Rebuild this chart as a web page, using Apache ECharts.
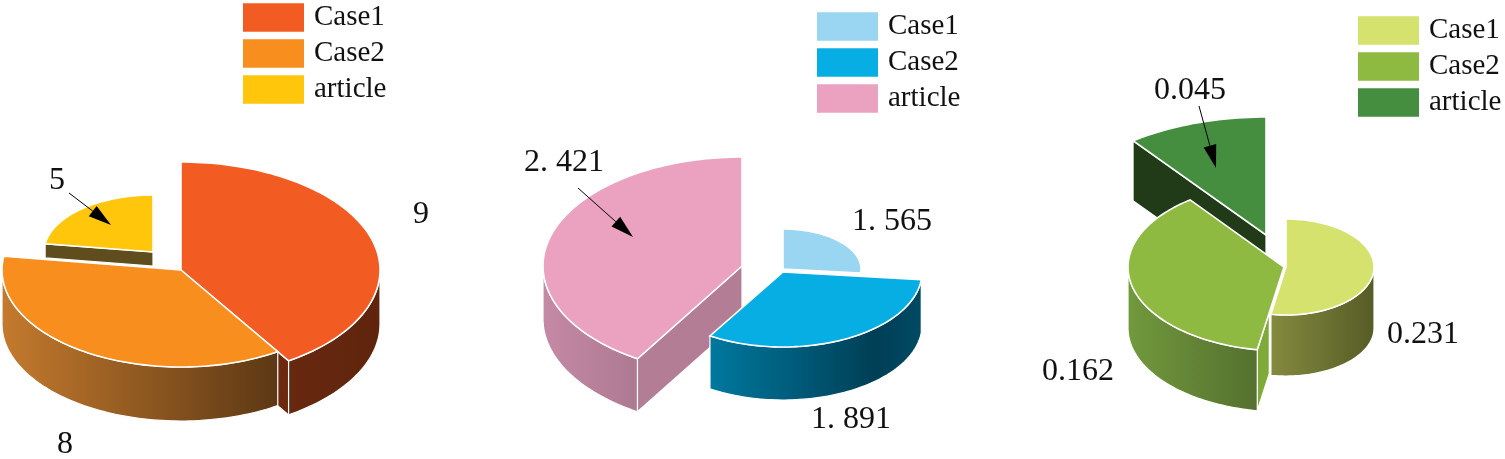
<!DOCTYPE html>
<html>
<head>
<meta charset="utf-8">
<style>html,body{margin:0;padding:0;background:#fff}#c{width:1505px;height:459px}</style>
<script src="https://cdn.jsdelivr.net/npm/echarts@6/dist/echarts.min.js"></script>
</head>
<body>
<div id="c"></div>
<script>
// ---- data ----
const categories = ['Case1', 'Case2', 'article'];
const valuesA = [9, 8, 5];
const valuesB = [1.565, 1.891, 2.421];
const valuesC = [0.231, 0.162, 0.045];
const labelsA = ['9', '8', '5'];
const labelsB = ['1. 565', '1. 891', '2. 421'];
const labelsC = ['0.231', '0.162', '0.045'];

// ---- styling / layout ----
const FONT = '"Liberation Serif","Times New Roman",serif';
const pies = [
  { values: valuesA, labels: labelsA,
    slices: [
      { cx:181, cy:270, rx:199, ry:108, d:54, top:'#f25c22', side:['#682810','#5f240c'], cut:'#6b2a10', lab:[421,215] },
      { cx:181, cy:270, rx:179, ry:97,  d:54, top:'#f88e1e', side:['#c47a2e','#5c3814'], cut:'#5c3814', lab:[65,445] },
      { cx:153, cy:252, rx:109, ry:57,  d:14, top:'#ffc60b', side:['#5f4d1e','#5f4d1e'], cut:'#5f4d1e', lab:[57,181], arrow:[69,193,111,225] }
    ],
    legend: { left:243, top:3, colors:['#f25c22','#f88e1e','#ffc60b'] } },
  { values: valuesB, labels: labelsB,
    slices: [
      { cx:783, cy:269, rx:78,  ry:40,  d:0,  top:'#9ad5f1', side:['#5d8ea6','#5d8ea6'], cut:'#5d8ea6', lab:[892,222] },
      { cx:783, cy:272, rx:139, ry:75,  d:53, top:'#07aee4', side:['#00789f','#003f56','#004a63'], cut:'#003f56', lab:[851,420] },
      { cx:742, cy:266, rx:199, ry:109, d:53, top:'#eba2c0', side:['#c589a5','#ad7a92'], cut:'#b37d95', lab:[564,163], arrow:[578,188,633,237] }
    ],
    legend: { left:817, top:12, colors:['#9ad5f1','#07aee4','#eba2c0'] } },
  { values: valuesC, labels: labelsC,
    slices: [
      { cx:1286, cy:267, rx:88,  ry:48, d:61, top:'#d5e26d', side:['#848a3e','#565c26'], cut:'#565c26', lab:[1423,335] },
      { cx:1284, cy:267, rx:156, ry:84, d:61, top:'#8fba42', side:['#71993d','#55702f'], cut:'#7daa38', cutFrom:0.55, lab:[1078,372] },
      { cx:1266, cy:235, rx:221, ry:118, d:60, top:'#458e40', side:['#213a17','#213a17'], cut:'#213a17', lab:[1190,91], arrow:[1199,106,1216,168] }
    ],
    legend: { left:1358, top:16, colors:['#d5e26d','#8fba42','#458e40'] } }
];
const drawOrder = [2, 0, 1];           // article at the back, Case2 in front

const rad = a => a * Math.PI / 180;
const onEllipse = (s, a, dy, f) => {
  const k = f === undefined ? 1 : f;
  return [s.cx + k * s.rx * Math.sin(rad(a)), s.cy - k * s.ry * Math.cos(rad(a)) + (dy || 0)];
};
function arc(s, a0, a1, dy) {
  const n = Math.max(2, Math.ceil(Math.abs(a1 - a0) / 1.5));
  const out = [];
  for (let i = 0; i <= n; i++) out.push(onEllipse(s, a0 + (a1 - a0) * i / n, dy));
  return out;
}

function makeRenderItem(s, text) {
  return function (params, api) {
    const val = api.value(0), before = api.value(1), total = api.value(2);
    const a0 = before / total * 360, a1 = (before + val) / total * 360;
    const kids = [];
    const edge = { stroke: '#fff', lineWidth: 1.2, lineJoin: 'round' };
    if (s.d > 0) {
      // radial cut faces that look towards the viewer
      [[a0, Math.sin(rad(a0)) < 0], [a1, Math.sin(rad(a1)) > 0]].forEach(([a, vis]) => {
        if (!vis) return;
        const f = s.cutFrom || 0;
        kids.push({ type: 'polygon',
          shape: { points: [onEllipse(s, a, 0, f), onEllipse(s, a), onEllipse(s, a, s.d), onEllipse(s, a, s.d, f)] },
          style: Object.assign({ fill: s.cut }, edge) });
      });
      // curved outer wall: the part of the arc on the front half
      const f0 = Math.max(a0, 90), f1 = Math.min(a1, 270);
      if (f1 > f0) {
        const pts = arc(s, f0, f1, 0).concat(arc(s, f1, f0, s.d));
        const xa = onEllipse(s, f0)[0], xb = onEllipse(s, f1)[0];
        const left = Math.min(xa, xb), right = Math.max(xa, xb);
        const stops = s.side.length === 3
          ? [{ offset: 0, color: s.side[0] }, { offset: 0.78, color: s.side[1] }, { offset: 1, color: s.side[2] }]
          : [{ offset: 0, color: s.side[0] }, { offset: 1, color: s.side[1] }];
        kids.push({ type: 'polygon', shape: { points: pts },
          style: Object.assign({
            fill: new echarts.graphic.LinearGradient(left, 0, right, 0, stops, true)
          }, edge) });
      }
    }
    // top face
    kids.push({ type: 'polygon',
      shape: { points: [[s.cx, s.cy]].concat(arc(s, a0, a1, 0)) },
      style: { fill: s.top, stroke: '#fff', lineWidth: 1.6, lineJoin: 'miter' } });
    // value label
    kids.push({ type: 'text', style: { text: text, x: s.lab[0], y: s.lab[1],
      fontFamily: FONT, fontSize: 32, fill: '#111', align: 'center', verticalAlign: 'middle' } });
    // leader arrow
    if (s.arrow) {
      const [x0, y0, x1, y1] = s.arrow;
      const L = Math.hypot(x1 - x0, y1 - y0), ux = (x1 - x0) / L, uy = (y1 - y0) / L;
      const bx = x1 - ux * 23, by = y1 - uy * 23;
      kids.push({ type: 'line', shape: { x1: x0, y1: y0, x2: bx, y2: by }, style: { stroke: '#000', lineWidth: 1 } });
      kids.push({ type: 'polygon',
        shape: { points: [[x1, y1], [bx - uy * 6.5, by + ux * 6.5], [bx + uy * 6.5, by - ux * 6.5]] },
        style: { fill: '#000' } });
    }
    return { type: 'group', children: kids };
  };
}

const series = [], legends = [];
pies.forEach(p => {
  const total = p.values.reduce((a, b) => a + b, 0);
  drawOrder.forEach(i => {
    const before = p.values.slice(0, i).reduce((a, b) => a + b, 0);
    series.push({
      type: 'custom', name: categories[i], coordinateSystem: 'none', silent: true, animation: false,
      itemStyle: { color: p.slices[i].top },
      data: [[p.values[i], before, total]],
      renderItem: makeRenderItem(p.slices[i], p.labels[i])
    });
  });
  legends.push({
    left: p.legend.left, top: p.legend.top, orient: 'vertical', padding: 0,
    itemWidth: 61, itemHeight: 28.5, itemGap: 7, icon: 'rect', selectedMode: false,
    textStyle: { fontFamily: FONT, fontSize: 29, color: '#111', padding: [0, 0, 0, 5], lineHeight: 28 },
    data: categories.map((c, i) => ({ name: c, itemStyle: { color: p.legend.colors[i] } }))
  });
});

const chart = echarts.init(document.getElementById('c'), null, { renderer: 'canvas' });
chart.setOption({ backgroundColor: '#fff', animation: false, legend: legends, series: series });
</script>
</body>
</html>
